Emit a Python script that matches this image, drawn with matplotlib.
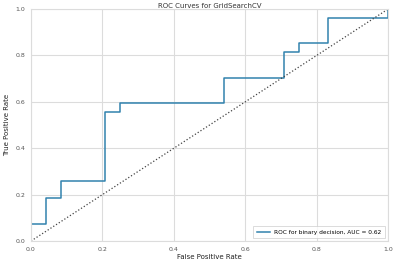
import matplotlib
matplotlib.use("Agg")
import matplotlib.pyplot as plt

# ROC curve points
fpr = [0.0, 0.042, 0.042, 0.083, 0.083, 0.208, 0.208, 0.25, 0.25,
       0.542, 0.542, 0.708, 0.708, 0.75, 0.75, 0.833, 0.833, 1.0, 1.0]
tpr = [0.074, 0.074, 0.185, 0.185, 0.259, 0.259, 0.556, 0.556, 0.593,
       0.593, 0.704, 0.704, 0.815, 0.815, 0.852, 0.852, 0.963, 0.963, 1.0]
auc = 0.62
diag = [0.0, 1.0]
ticks = [0.0, 0.2, 0.4, 0.6, 0.8, 1.0]

plt.rcParams["font.family"] = ["DejaVu Sans"]

fig = plt.figure(figsize=(4.0, 2.6), dpi=100)
ax = fig.add_axes([0.0775, 0.073, 0.8925, 0.892])
ax.set_facecolor("white")

ax.plot(fpr, tpr, color="#3182ae", lw=1.1,
        label=f"ROC for binary decision, AUC = {auc:.2f}")
ax.plot(diag, diag, color="#444444", lw=0.9, linestyle=":")

ax.set_xlim(0, 1)
ax.set_ylim(0, 1)
ax.set_xticks(ticks)
ax.set_yticks(ticks)
ax.grid(True, color="#dcdcdc", lw=0.8)
ax.set_axisbelow(True)
for s in ax.spines.values():
    s.set_color("#dcdcdc")
    s.set_linewidth(0.8)
ax.tick_params(length=0, labelsize=4.5, colors="#555555", pad=4)

ax.set_title("ROC Curves for GridSearchCV", fontsize=5, color="#333333", pad=0.5)
ax.set_xlabel("False Positive Rate", fontsize=5, color="#222222", labelpad=2)
ax.set_ylabel("True Positive Rate", fontsize=5, color="#222222", labelpad=4)

leg = ax.legend(loc="lower right", fontsize=4.2, frameon=True, fancybox=False,
                handlelength=2.2, borderpad=0.6)
leg.get_frame().set_edgecolor("#cccccc")
leg.get_frame().set_linewidth(0.6)

fig.savefig("out.png", dpi=100)
